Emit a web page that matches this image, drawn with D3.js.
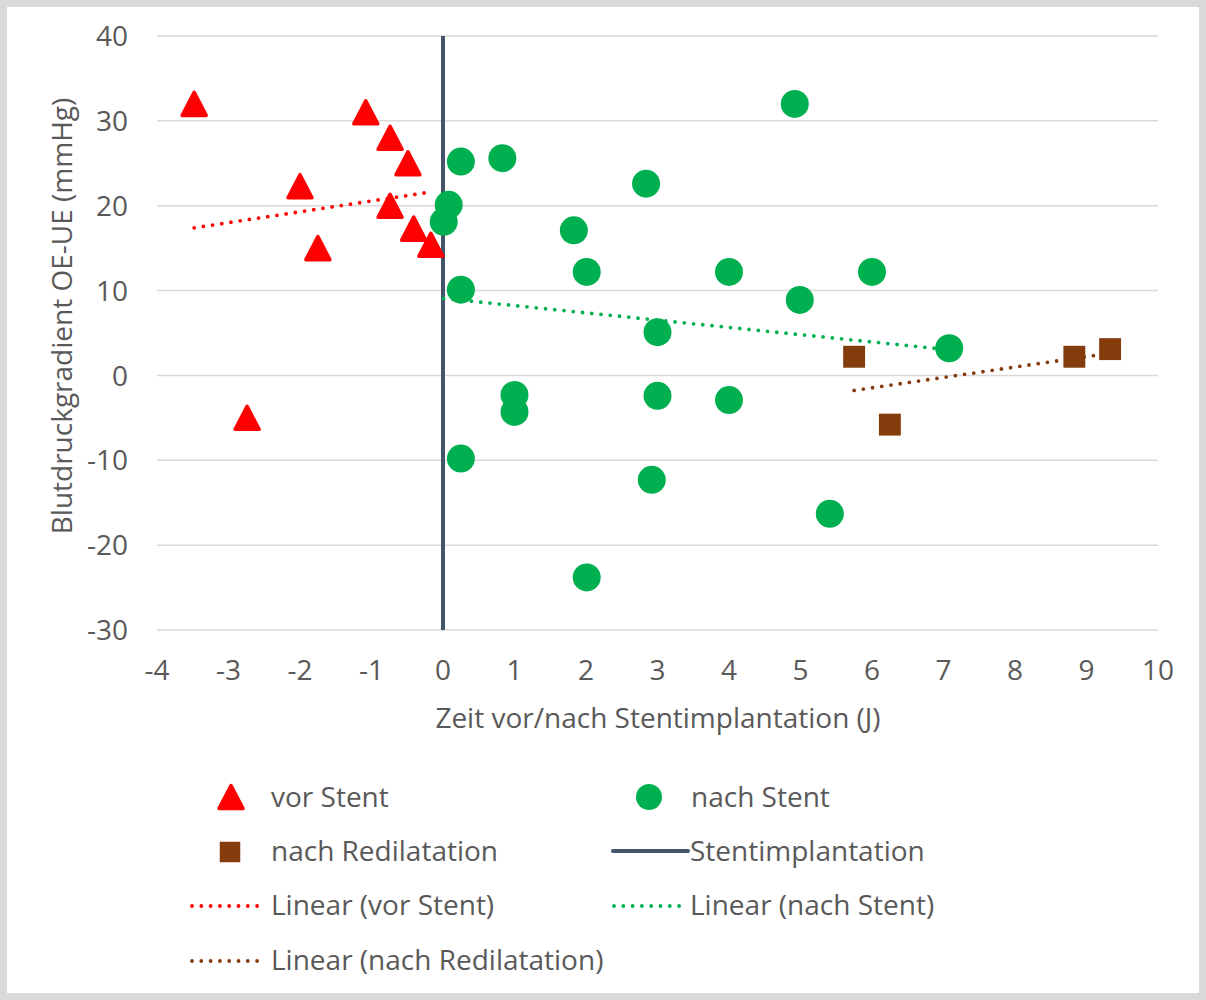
<!DOCTYPE html>
<html><head><meta charset="utf-8">
<script src="https://cdn.jsdelivr.net/npm/d3@7"></script>
<style>
body{margin:0;background:#fff;}
svg text{font-family:"Open Sans",sans-serif;fill:#595959;}
</style></head><body>
<svg id="c" width="1206" height="1000"></svg>
<script>
const xTicks=[-4,-3,-2,-1,0,1,2,3,4,5,6,7,8,9,10];
const yTicks=[-30,-20,-10,0,10,20,30,40];
const vorX=[-3.48,-1.08,-0.74,-0.49,-2.0,-0.74,-0.41,-1.75,-0.17,-2.74];
const vorY=[32,31,28,25,22.3,20,17.3,15,15.4,-5];
const nachX=[0.25,0.83,0.08,0.01,0.25,0.25,1.0,1.0,1.83,2.01,2.01,2.84,3.0,3.0,2.92,4.0,4.0,4.92,4.99,5.41,6.0,7.08];
const nachY=[25.2,25.6,20.1,18.1,10.1,-9.8,-2.3,-4.3,17.1,12.2,-23.8,22.6,5.1,-2.4,-12.3,12.2,-2.9,32.0,8.9,-16.3,12.2,3.2];
const rediX=[5.75,6.25,8.83,9.33];
const rediY=[2.2,-5.8,2.2,3.1];
const stentX=[0,0];
const stentY=[-30,40];
const legendLabels=["vor Stent","nach Stent","nach Redilatation","Stentimplantation","Linear (vor Stent)","Linear (nach Stent)","Linear (nach Redilatation)"];

const red="#ff0000",green="#00b050",brown="#843c0c",slate="#44546a",grid="#d9d9d9";
const FS=28;
const svg=d3.select("#c");
svg.append("rect").attr("x",3.5).attr("y",3.5).attr("width",1199).attr("height",993).attr("fill","#fff").attr("stroke",grid).attr("stroke-width",7);

const x=d3.scaleLinear().domain([-4,10]).range([157,1158]);
const y=d3.scaleLinear().domain([-30,40]).range([630,36]);

// grid
svg.append("g").selectAll("line").data(yTicks).join("line")
 .attr("x1",x(-4)).attr("x2",x(10)).attr("y1",d=>y(d)).attr("y2",d=>y(d))
 .attr("stroke",grid).attr("stroke-width",1.5);
// tick labels
svg.append("g").selectAll("text").data(yTicks).join("text")
 .attr("x",128).attr("y",d=>y(d)).attr("dy","0.36em").attr("text-anchor","end")
 .attr("font-size",FS).text(d=>d);
svg.append("g").selectAll("text").data(xTicks).join("text")
 .attr("x",d=>x(d)).attr("y",670).attr("dy","0.36em").attr("text-anchor","middle")
 .attr("font-size",FS).text(d=>d);
// axis titles
svg.append("text").attr("x",658).attr("y",718).attr("dy","0.36em").attr("text-anchor","middle").attr("font-size",FS).text("Zeit vor/nach Stentimplantation (J)");
svg.append("text").attr("transform","translate(62,316) rotate(-90)").attr("dy","0.36em").attr("text-anchor","middle").attr("font-size",FS).text("Blutdruckgradient OE-UE (mmHg)");

// trend lines (least squares, like Excel's linear trendline)
function trend(xs,ys){
 const n=xs.length,mx=d3.mean(xs),my=d3.mean(ys);
 let sxy=0,sxx=0;for(let i=0;i<n;i++){sxy+=(xs[i]-mx)*(ys[i]-my);sxx+=(xs[i]-mx)**2;}
 const b=sxy/sxx,a=my-b*mx;const [x0,x1]=d3.extent(xs);
 return [[x0,a+b*x0],[x1,a+b*x1]];
}
const line=d3.line().x(d=>x(d[0])).y(d=>y(d[1]));
function dotted(g,pts,col){
 g.append("path").attr("d",line(pts)).attr("fill","none").attr("stroke",col).attr("stroke-width",3.8)
  .attr("stroke-linecap","round").attr("stroke-dasharray","0 9.3");
}
// stent line
svg.append("path").attr("d",line(stentX.map((v,i)=>[v,stentY[i]]))).attr("stroke",slate).attr("stroke-width",4).attr("fill","none");

const gT=svg.append("g");
dotted(gT,trend(vorX,vorY),red);
dotted(gT,trend(nachX,nachY),green);
dotted(gT,trend(rediX,rediY),brown);

const tri="M0,-11.5L12,11.5L-12,11.5Z";
const sq=d3.symbol().type(d3.symbolSquare).size(480)();
svg.append("g").selectAll("path").data(vorX.map((v,i)=>[v,vorY[i]])).join("path")
 .attr("d",tri).attr("transform",d=>`translate(${x(d[0])},${y(d[1])})`).attr("fill",red)
 .attr("stroke",red).attr("stroke-width",3.5).attr("stroke-linejoin","round");
svg.append("g").selectAll("circle").data(nachX.map((v,i)=>[v,nachY[i]])).join("circle")
 .attr("cx",d=>x(d[0])).attr("cy",d=>y(d[1])).attr("r",14).attr("fill",green);
svg.append("g").selectAll("path").data(rediX.map((v,i)=>[v,rediY[i]])).join("path")
 .attr("d",sq).attr("transform",d=>`translate(${x(d[0])},${y(d[1])})`).attr("fill",brown);

// legend
const L=svg.append("g");
function ltext(tx,ty,t){L.append("text").attr("x",tx).attr("y",ty).attr("dy","0.36em").attr("font-size",FS).text(t);}
L.append("path").attr("d",tri).attr("transform","translate(231,797)").attr("fill",red).attr("stroke",red).attr("stroke-width",3.5).attr("stroke-linejoin","round");
ltext(271,797,legendLabels[0]);
L.append("circle").attr("cx",649).attr("cy",797).attr("r",13).attr("fill",green);
ltext(691,797,legendLabels[1]);
L.append("path").attr("d",d3.symbol().type(d3.symbolSquare).size(420)()).attr("transform","translate(230,852)").attr("fill",brown);
ltext(271,851,legendLabels[2]);
L.append("line").attr("x1",613).attr("x2",688).attr("y1",851).attr("y2",851).attr("stroke",slate).attr("stroke-width",4).attr("stroke-linecap","round");
ltext(690,851,legendLabels[3]);
function ldot(x1,x2,yy,col){L.append("line").attr("x1",x1).attr("x2",x2).attr("y1",yy).attr("y2",yy).attr("stroke",col).attr("stroke-width",3.8).attr("stroke-linecap","round").attr("stroke-dasharray","0 9.3");}
ldot(192,266,906,red);ltext(271,905,legendLabels[4]);
ldot(614,688,906,green);ltext(690,905,legendLabels[5]);
ldot(192,266,961,brown);ltext(271,960,legendLabels[6]);
</script></body></html>
